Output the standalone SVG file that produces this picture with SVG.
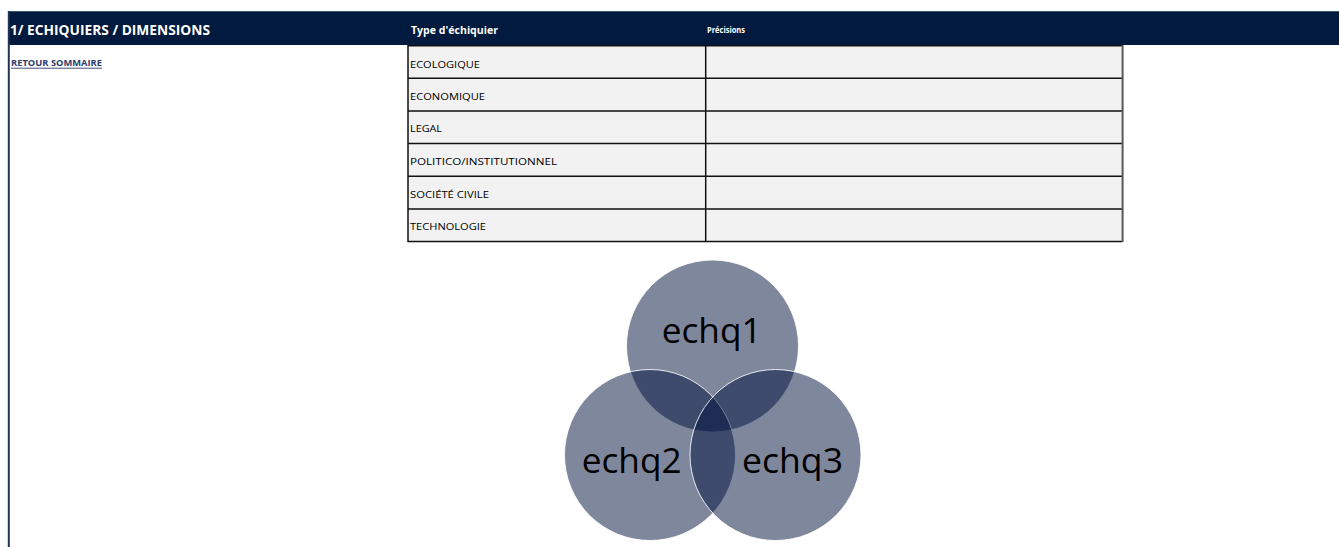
<svg xmlns="http://www.w3.org/2000/svg" width="1339" height="547" viewBox="0 0 1339 547">
<style>
.hdr{font-family:"Open Sans","Liberation Sans",sans-serif;font-weight:bold;fill:#ffffff}
.cell{font-family:"Open Sans","Liberation Sans",sans-serif;font-size:9.5px;fill:#000000}
.row{fill:#f2f2f2}
.grid{stroke:#111111;stroke-width:1.5;fill:none}
.venn{fill:#000f3c;fill-opacity:0.5;stroke:#ffffff;stroke-opacity:0.85;stroke-width:1}
.vlab{font-family:"Open Sans","Liberation Sans",sans-serif;font-size:34px;fill:#000000;text-anchor:middle}
</style>
<rect x="0" y="0" width="1339" height="547" fill="#ffffff"/>
<g id="header">
<rect x="8" y="11" width="1331" height="34" fill="#011a3e"/>
<line x1="8" y1="11.5" x2="1339" y2="11.5" stroke="#3c5677" stroke-width="1"/>
<line x1="8.8" y1="11" x2="8.8" y2="547" stroke="#1f3553" stroke-width="2"/>
<text class="hdr" x="10" y="35" font-size="14" textLength="200" lengthAdjust="spacingAndGlyphs">1/ ECHIQUIERS / DIMENSIONS</text>
<text class="hdr" x="411" y="33.5" font-size="10" textLength="87" lengthAdjust="spacingAndGlyphs">Type d'échiquier</text>
<text class="hdr" x="707" y="32.5" font-size="8" textLength="38" lengthAdjust="spacingAndGlyphs">Précisions</text>
</g>
<g id="retour">
<text x="11" y="66" font-family="'Open Sans','Liberation Sans',sans-serif" font-weight="bold" font-size="8.5" fill="#2e3b6b" textLength="91" lengthAdjust="spacingAndGlyphs">RETOUR SOMMAIRE</text>
<line x1="11" y1="68.2" x2="102" y2="68.2" stroke="#2e3b6b" stroke-width="0.9"/>
</g>
<g id="table">
<rect class="row" x="407.5" y="45.5" width="715" height="196"/>
<g id="row-ecologique"><text class="cell" x="410" y="67.5" textLength="70" lengthAdjust="spacingAndGlyphs">ECOLOGIQUE</text></g>
<g id="row-economique"><text class="cell" x="410" y="100" textLength="75" lengthAdjust="spacingAndGlyphs">ECONOMIQUE</text></g>
<g id="row-legal"><text class="cell" x="410" y="132" textLength="32" lengthAdjust="spacingAndGlyphs">LEGAL</text></g>
<g id="row-politico"><text class="cell" x="410" y="165" textLength="147" lengthAdjust="spacingAndGlyphs">POLITICO/INSTITUTIONNEL</text></g>
<g id="row-societe"><text class="cell" x="410" y="197.7" textLength="79" lengthAdjust="spacingAndGlyphs">SOCIÉTÉ CIVILE</text></g>
<g id="row-technologie"><text class="cell" x="410" y="230" textLength="76" lengthAdjust="spacingAndGlyphs">TECHNOLOGIE</text></g>
<path class="grid" d="M407.5 45.8H1122.5M407.5 78.3H1122.5M407.5 111H1122.5M407.5 143.5H1122.5M407.5 176.3H1122.5M407.5 209H1122.5M407.5 241.5H1122.5M408 45V242M705.7 45V242"/>
<line x1="1122.6" y1="45" x2="1122.6" y2="242" stroke="#595959" stroke-width="2"/>
</g>
<g id="connectors"></g>
<g id="echq1"><circle class="venn" cx="712.5" cy="346" r="86"/></g>
<g id="echq2"><circle class="venn" cx="650" cy="455" r="85.5"/></g>
<g id="echq3"><circle class="venn" cx="775.5" cy="455" r="85.5"/></g>
<g id="labels">
<text class="vlab" x="711.7" y="343" textLength="100" lengthAdjust="spacingAndGlyphs">echq1</text>
<text class="vlab" x="631.7" y="472.7" textLength="100" lengthAdjust="spacingAndGlyphs">echq2</text>
<text class="vlab" x="792.5" y="472.7" textLength="101" lengthAdjust="spacingAndGlyphs">echq3</text>
</g>
</svg>
